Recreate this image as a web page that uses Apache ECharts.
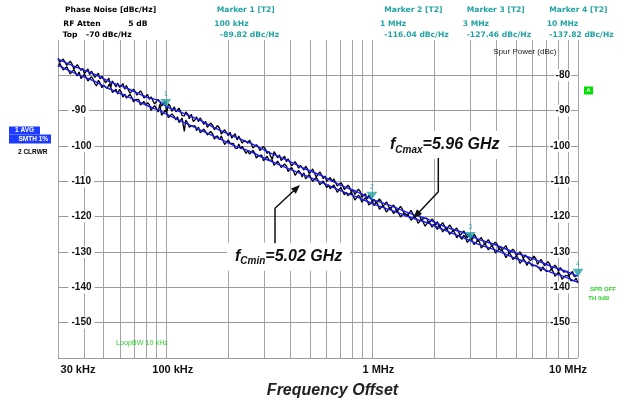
<!DOCTYPE html>
<html><head><meta charset="utf-8">
<script src="https://cdn.jsdelivr.net/npm/echarts@6.0.0/dist/echarts.min.js"></script>
<style>html,body{margin:0;padding:0;background:#fff}#c{width:636px;height:404px}</style>
</head><body><div id="c"></div>
<script>
// ---- data ----
// trace 2 (clear/write) sweep points, kHz
const freqKHz = [30,31.2,32.5,33.8,35.1,36.5,38,39.5,41.1,42.7,44.4,46.2,48,50,52,54,56.2,58.4,60.8,63.2,65.7,68.4,71.1,73.9,76.9,80,83.2,86.5,90,93.6,97.3,101,105,110,114,118,123,128,133,139,144,150,156,162,169,175,182,190,197,205,213,222,231,240,250,260,270,281,292,304,316,329,342,356,370,385,400,416,433,450,468,487,506,526,548,570,592,616,641,666,693,721,750,780,811,843,877,912,949,987,1026,1067,1110,1154,1200,1248,1298,1350,1404,1460,1519,1580,1643,1709,1777,1848,1922,1999,2079,2162,2249,2339,2432,2530,2631,2736,2846,2959,3078,3201,3329,3462,3600,3744,3894,4050,4212,4380,4555,4738,4927,5124,5329,5542,5764,5995,6234,6484,6743,7013,7293,7585,7888,8204,8532,8873,9228,9597,10000];
const freqMidKHz = [30.6,31.8,33.1,34.4,35.8,37.2,38.8,40.3,41.9,43.6,45.3,47.1,49,51,53,55.1,57.3,59.6,62,64.4,67,69.7,72.5,75.4,78.4,81.6,84.8,88.2,91.8,95.4,99.2,103,107,112,116,120,125,130,136,141,147,153,159,165,172,178,186,193,201,209,217,226,235,245,255,265,275,286,298,310,322,335,349,363,377,392,408,424,441,459,477,496,516,537,559,581,604,628,653,679,707,735,765,795,827,860,894,930,968,1006,1046,1088,1132,1177,1224,1273,1324,1377,1432,1489,1549,1611,1676,1743,1812,1885,1960,2039,2120,2205,2294,2385,2481,2580,2683,2791,2902,3018,3139,3265,3395,3531,3672,3819,3972,4131,4296,4467,4646,4832,5025,5226,5435,5653,5879,6114,6358,6613,6877,7152,7438,7736,8045,8367,8702,9050,9412,9797];
const clrwrUpper = [-75.2,-76.2,-75.7,-76.9,-76.8,-78.3,-77.8,-78.0,-79.1,-79.8,
-79.3,-80.1,-81.0,-80.3,-81.5,-83.4,-82.0,-82.2,-83.1,-83.9,
-83.3,-84.6,-84.6,-85.9,-85.2,-86.0,-86.8,-86.1,-87.9,-87.5,
-88.3,-90.7,-88.7,-88.9,-90.3,-90.2,-91.5,-91.0,-91.0,-92.5,
-93.1,-93.0,-93.0,-94.9,-94.2,-95.0,-94.9,-96.3,-96.2,-96.1,
-97.4,-98.3,-97.7,-98.4,-99.2,-98.6,-100.5,-100.2,-101.2,-100.8,
-101.5,-103.8,-102.4,-102.5,-103.7,-104.5,-103.8,-105.2,-105.3,-105.5,
-106.8,-106.5,-107.2,-107.0,-108.8,-108.2,-108.5,-109.8,-110.1,-109.8,
-111.1,-111.1,-112.4,-111.7,-112.4,-113.5,-112.8,-114.0,-114.9,-114.5,
-115.1,-116.2,-115.7,-116.5,-116.2,-117.5,-117.4,-118.6,-117.8,-118.6,
-119.2,-118.7,-120.2,-119.9,-120.5,-120.4,-121.9,-121.3,-121.4,-122.6,
-122.6,-123.5,-123.1,-124.0,-123.5,-124.9,-124.9,-124.9,-126.4,-125.8,
-126.5,-126.2,-127.5,-127.3,-128.5,-127.8,-128.5,-129.5,-128.7,-129.9,
-129.8,-131.2,-130.7,-130.8,-131.9,-132.0,-131.8,-133.2,-132.9,-133.7,
-133.4,-134.8,-134.4,-134.4,-135.7,-135.5,-136.2,-137.0,-136.5];
const clrwrUpperMid = [-76.3,-75.4,-77.2,-76.0,-78.2,-77.0,-78.6,-79.5,-78.2,-78.8,
-80.6,-79.4,-80.2,-82.1,-80.8,-81.6,-83.3,-83.4,-82.4,-82.9,
-85.1,-83.9,-85.6,-84.4,-86.4,-85.4,-86.1,-88.1,-86.8,-88.7,
-87.4,-88.1,-90.2,-90.3,-89.3,-91.4,-90.4,-92.3,-93.1,-91.7,
-92.0,-93.9,-94.7,-93.5,-95.4,-94.2,-96.6,-95.4,-97.1,-97.8,
-96.5,-97.2,-99.2,-98.0,-98.3,-100.6,-99.6,-101.3,-100.1,-102.1,
-102.8,-101.6,-103.4,-104.1,-102.9,-103.6,-105.6,-104.4,-106.3,-105.1,
-105.7,-107.8,-106.5,-108.8,-107.3,-109.3,-110.0,-108.9,-109.3,-111.3,
-110.4,-112.3,-111.1,-113.0,-113.7,-112.2,-114.5,-113.5,-113.9,-115.9,
-116.2,-115.0,-117.1,-115.8,-117.9,-116.7,-118.6,-117.1,-119.0,-119.6,
-118.2,-120.2,-119.1,-121.2,-120.0,-122.0,-120.6,-122.4,-123.0,-121.7,
-123.7,-122.3,-124.2,-123.2,-125.3,-124.0,-126.0,-124.9,-125.0,-127.0,
-125.9,-127.8,-126.5,-128.4,-127.2,-129.2,-129.4,-128.2,-130.4,-129.2,
-131.1,-130.0,-131.9,-130.8,-132.5,-131.2,-133.5,-132.1,-133.9,-132.7,
-134.9,-133.7,-135.5,-134.2,-136.1,-136.7,-135.5,-137.5];
const clrwrLower = [-77.5,-77.0,-78.1,-78.1,-79.6,-79.2,-79.0,-80.6,-80.6,-81.6,
-81.1,-83.0,-82.2,-82.8,-83.7,-83.2,-84.5,-85.3,-84.7,-85.3,
-86.8,-86.2,-86.9,-86.8,-88.2,-88.4,-88.3,-89.7,-89.3,-88.2,
-90.7,-90.5,-91.9,-91.7,-91.7,-93.1,-95.9,-93.6,-94.3,-94.3,
-94.6,-96.1,-95.9,-97.2,-96.6,-97.5,-98.2,-97.7,-99.3,-99.2,
-99.3,-100.7,-100.8,-100.5,-101.3,-102.6,-102.0,-102.8,-102.6,-104.0,
-103.9,-104.0,-105.6,-105.1,-106.0,-105.7,-106.9,-107.0,-108.0,-107.6,
-107.6,-109.0,-109.1,-110.2,-109.7,-110.5,-110.2,-111.0,-112.2,-112.0,
-112.7,-112.2,-113.1,-114.3,-114.1,-114.6,-114.5,-116.0,-115.5,-116.2,
-116.9,-116.4,-117.5,-117.3,-118.6,-118.1,-118.6,-118.5,-119.8,-119.9,
-119.6,-120.9,-120.6,-121.4,-120.9,-122.3,-122.1,-122.2,-123.6,-123.2,
-124.1,-123.6,-124.9,-124.7,-125.2,-126.4,-125.8,-126.8,-126.6,-127.7,
-127.2,-128.3,-128.4,-129.4,-128.9,-130.0,-129.6,-130.4,-131.4,-131.0,
-131.8,-131.8,-133.1,-132.6,-132.7,-133.9,-133.8,-134.6,-134.2,-135.5,
-135.4,-135.6,-136.7,-136.4,-137.2,-136.8,-138.1,-138.1,-138.8];
const clrwrLowerMid = [-76.6,-78.5,-77.6,-79.6,-78.4,-80.2,-80.9,-79.7,-81.6,-80.4,
-82.4,-81.4,-83.5,-82.4,-82.6,-84.9,-83.9,-84.0,-86.2,-86.4,
-85.4,-87.5,-86.4,-88.4,-87.4,-87.7,-89.9,-88.6,-90.4,-91.3,
-89.9,-92.0,-90.9,-92.6,-93.4,-92.1,-92.7,-94.7,-93.8,-95.7,
-96.3,-95.2,-96.9,-95.9,-98.0,-97.1,-97.2,-99.6,-98.3,-98.9,
-100.6,-99.4,-100.1,-102.1,-102.3,-101.2,-103.4,-102.3,-104.2,-102.9,
-103.5,-105.5,-104.3,-106.1,-105.1,-107.2,-106.1,-108.3,-106.9,-108.8,
-109.3,-108.1,-110.0,-108.9,-111.0,-109.9,-111.8,-112.1,-111.0,-113.1,
-111.7,-113.8,-114.1,-113.1,-115.3,-113.9,-115.9,-114.6,-116.7,-115.8,
-115.8,-117.9,-116.8,-118.7,-117.4,-119.1,-118.0,-120.1,-119.0,-119.2,
-121.0,-119.9,-121.9,-120.6,-122.7,-121.3,-123.0,-121.8,-122.4,-124.3,
-123.1,-125.0,-123.9,-126.0,-124.8,-125.2,-127.3,-126.1,-127.9,-126.6,
-128.9,-127.5,-129.4,-128.2,-130.3,-129.2,-129.7,-131.6,-130.2,-132.1,
-131.1,-133.2,-132.0,-133.8,-132.5,-134.4,-133.3,-135.4,-134.2,-135.8,
-134.8,-136.9,-135.7,-137.7,-136.6,-136.8,-138.6,-137.4];
// trace 1 (average, smoothed), kHz
const avgFreqKHz = [30,36.5,44.4,54,65.7,80,86.5,93.6,101,118,144,175,213,260,316,385,468,570,693,843,1026,1248,1519,1848,2249,2736,3329,4050,4927,5995,7293,8873,10000];
const avgUpper = [-75.4,-77.6,-79.5,-81.9,-83.8,-86.1,-86.6,-87.4,-88.9,-90.4,-92.5,-95.0,-97.2,-99.3,-101.8,-103.9,-106.3,-108.4,-110.9,-112.9,-115.3,-117.0,-119.0,-120.6,-122.8,-124.4,-126.5,-128.1,-130.2,-131.8,-133.9,-135.6,-136.8];
const avgLower = [-77.2,-79.5,-81.5,-84.0,-86.1,-88.4,-89.2,-90.0,-91.0,-92.9,-95.2,-97.5,-99.8,-101.7,-104.1,-106.2,-108.2,-110.3,-112.5,-114.4,-116.5,-118.2,-120.1,-121.7,-123.8,-125.8,-127.9,-129.6,-131.7,-133.5,-135.6,-137.3,-138.6];
const markerHz = [100000, 1000000, 3000000, 10000000];
const markerDb = [-89.82, -116.04, -127.46, -137.82];
const xTickHz = [30000, 100000, 1000000, 10000000];
const xTickText = ['30 kHz', '100 kHz', '1 MHz', '10 MHz'];
const minorGridHz = [40e3,50e3,60e3,70e3,80e3,90e3,200e3,300e3,400e3,500e3,600e3,700e3,800e3,900e3,2e6,3e6,4e6,5e6,6e6,7e6,8e6,9e6];
const yLeftTicks = [-90,-100,-110,-120,-130,-140,-150];
const yRightTicks = [-80,-90,-100,-110,-120,-130,-140,-150];

// ---- chart ----
const TEAL = '#23a3a3';
const GRID = '#a4a4ac';
const SANS = '"Liberation Sans", Arial, sans-serif';
const VER = '"DejaVu Sans", Verdana, sans-serif';
const pts = (fk, v) => fk.map((f, i) => [f * 1000, v[i]]);
function sweep(fk, v, fkMid, vMid) {
  const out = [];
  fk.forEach((f, i) => {
    out.push([f * 1000, v[i]]);
    if (i < fkMid.length) out.push([fkMid[i] * 1000, vMid[i]]);
  });
  return out;
}
const fLabel = f => f >= 1e6 ? (f / 1e6) + ' MHz' : (f / 1e3) + ' kHz';

const chart = echarts.init(document.getElementById('c'), null, {renderer: 'canvas'});

const graphics = [];
function txt(x, y, text, o) {
  graphics.push({type: 'text', x: x, y: y, z: 20, silent: true,
    style: Object.assign({text: text, fill: '#000', fontFamily: VER, fontWeight: 'bold', fontSize: 7.6, align: 'left', verticalAlign: 'middle'}, o || {})});
}
txt(65, 10.5, 'Phase Noise [dBc/Hz]');
txt(63.3, 23.8, 'RF Atten');
txt(128.3, 23.8, '5 dB');
txt(62.7, 35.5, 'Top');
txt(86, 35.5, '-70 dBc/Hz');
const mcolX1 = [216.7, 384.3, 466.7, 549.3];
const mcolX2 = [214.3, 380, 462.7, 546.7];
const mcolX3 = [220, 384.3, 466.7, 549.3];
markerHz.forEach((f, i) => {
  txt(mcolX1[i], 10.5, 'Marker ' + (i + 1) + ' [T2]', {fill: TEAL});
  txt(mcolX2[i], 23.8, fLabel(f), {fill: TEAL});
  txt(mcolX3[i], 35.5, markerDb[i].toFixed(2) + ' dBc/Hz', {fill: TEAL});
});
txt(493.3, 51.7, 'Spur Power (dBc)', {fontFamily: SANS, fontWeight: 'normal', fontSize: 8, fill: '#222'});
// left status boxes
graphics.push({type: 'rect', shape: {x: 9, y: 126.5, width: 31, height: 8}, style: {fill: '#1e3cff'}, z: 20});
graphics.push({type: 'rect', shape: {x: 9, y: 134.5, width: 42, height: 9}, style: {fill: '#1e3cff'}, z: 20});
txt(15, 130.5, '1 AVG', {fontFamily: SANS, fontSize: 6.5, fill: '#fff'});
txt(18.5, 139.3, 'SMTH 1%', {fontFamily: SANS, fontSize: 6.5, fill: '#fff'});
txt(18, 152.5, '2 CLRWR', {fontFamily: SANS, fontSize: 6.5, fill: '#000'});
// green A box
graphics.push({type: 'rect', shape: {x: 584, y: 86.5, width: 9, height: 8}, style: {fill: '#00dd00'}, z: 20});
txt(588.5, 90.7, 'A', {fontFamily: SANS, fontSize: 6, fill: '#fff', align: 'center'});
txt(590, 289.3, 'SPR OFF', {fontFamily: SANS, fontSize: 6, fill: '#2ed12e'});
txt(588.3, 298, 'TH 0dB', {fontFamily: SANS, fontSize: 6, fill: '#2ed12e'});
txt(116, 343.3, 'LoopBW 10 kHz', {fontFamily: SANS, fontWeight: 'normal', fontSize: 7.2, fill: '#2ed12e'});
// annotations
const annRich = {
  f: {fontFamily: SANS, fontWeight: 'bold', fontStyle: 'italic', fontSize: 16, lineHeight: 20, fill: '#111'},
  s: {fontFamily: SANS, fontWeight: 'bold', fontStyle: 'italic', fontSize: 10, lineHeight: 12, verticalAlign: 'bottom', fill: '#111'},
  m: {fontFamily: SANS, fontWeight: 'bold', fontStyle: 'italic', fontSize: 16, lineHeight: 20, fill: '#111'}
};
graphics.push({type: 'text', x: 380, y: 145, z: 15, silent: true,
  style: {text: '{f|f}{s|Cmax}{m|=5.96 GHz}', rich: annRich, align: 'left', verticalAlign: 'middle', backgroundColor: '#fff', padding: [4, 9, 4, 10]}});
graphics.push({type: 'text', x: 227, y: 256.7, z: 15, silent: true,
  style: {text: '{f|f}{s|Cmin}{m|=5.02 GHz}', rich: annRich, align: 'left', verticalAlign: 'middle', backgroundColor: '#fff', padding: [4, 8, 4, 8]}});
graphics.push({type: 'polyline', z: 16, silent: true, shape: {points: [[438.3, 158], [438.3, 191.7], [416, 215.5]]}, style: {stroke: '#111', lineWidth: 1.5, fill: null}});
graphics.push({type: 'polygon', z: 16, silent: true, shape: {points: [[413.3, 218.3], [422.1, 214.1], [416.9, 209.3]]}, style: {fill: '#111'}});
graphics.push({type: 'polyline', z: 16, silent: true, shape: {points: [[275, 243.3], [275, 208.3], [297.5, 187.3]]}, style: {stroke: '#111', lineWidth: 1.5, fill: null}});
graphics.push({type: 'polygon', z: 16, silent: true, shape: {points: [[300, 185], [295.8, 193.7], [291.0, 188.5]]}, style: {fill: '#111'}});

const xRich = {
  t0: {fontFamily: SANS, fontWeight: 'bold', fontSize: 11, color: '#111', padding: [0, 0, 0, 40]},
  t1: {fontFamily: SANS, fontWeight: 'bold', fontSize: 11, color: '#111', padding: [0, 0, 0, 14]},
  t2: {fontFamily: SANS, fontWeight: 'bold', fontSize: 11, color: '#111', padding: [0, 0, 0, 13]},
  t3: {fontFamily: SANS, fontWeight: 'bold', fontSize: 11, color: '#111', padding: [0, 20, 0, 0]}
};

const option = {
  animation: false,
  backgroundColor: '#fff',
  grid: {left: 58, right: 58, top: 40, bottom: 46, containLabel: false},
  graphic: graphics,
  xAxis: {
    type: 'log', logBase: 10, min: 30000, max: 10000000,
    axisLine: {show: false}, axisTick: {show: false},
    splitLine: {show: true, lineStyle: {color: GRID, width: 1}},
    axisLabel: {
      margin: 6, showMinLabel: true, showMaxLabel: true,
      fontFamily: SANS, fontWeight: 'bold', fontSize: 11, color: '#111',
      formatter: function (v) {
        const i = xTickHz.findIndex(f => Math.abs(Math.log10(f) - Math.log10(v)) < 0.01);
        return i < 0 ? '' : '{t' + i + '|' + xTickText[i] + '}';
      },
      rich: xRich
    },
    name: 'Frequency Offset', nameLocation: 'middle', nameGap: 25,
    nameTextStyle: {fontFamily: SANS, fontWeight: 'bold', fontStyle: 'italic', fontSize: 16, color: '#222', padding: [0, 0, 0, 29]}
  },
  yAxis: [{
    type: 'value', position: 'left', min: -160, max: -70, interval: 10, z: 2,
    axisLine: {show: false}, axisTick: {show: false},
    splitLine: {show: true, showMaxLine: false, lineStyle: {color: '#9a9aa0', width: 1}},
    axisLabel: {inside: true, margin: 10.5, customValues: yLeftTicks, fontFamily: SANS, fontWeight: 'bold', fontSize: 10, color: '#111',
      backgroundColor: '#fff', padding: [1, 3, 1, 3]}
  }, {
    type: 'value', position: 'right', min: -160, max: -70, interval: 10, z: 2,
    axisLine: {show: false}, axisTick: {show: false}, splitLine: {show: false},
    axisLabel: {inside: true, margin: 7, customValues: yRightTicks, fontFamily: SANS, fontWeight: 'bold', fontSize: 10, color: '#111',
      backgroundColor: '#fff', padding: [1, 1, 1, 1]}
  }],
  series: [{
    type: 'line', name: 'clrwr upper', data: sweep(freqKHz, clrwrUpper, freqMidKHz, clrwrUpperMid), showSymbol: false, z: 3,
    lineStyle: {color: '#000', width: 1.3}, silent: true,
    markLine: {z: 1, silent: true, symbol: 'none', animation: false, label: {show: false},
      lineStyle: {color: GRID, width: 1, type: 'solid'}, emphasis: {disabled: true},
      data: minorGridHz.map(f => ({xAxis: f}))}
  }, {
    type: 'line', name: 'clrwr lower', data: sweep(freqKHz, clrwrLower, freqMidKHz, clrwrLowerMid), showSymbol: false, z: 3,
    lineStyle: {color: '#000', width: 1.3}, silent: true
  }, {
    type: 'line', name: 'avg upper', data: pts(avgFreqKHz, avgUpper), showSymbol: false, z: 4, smooth: 0.2,
    lineStyle: {color: '#1a1aff', width: 1.4}, silent: true
  }, {
    type: 'line', name: 'avg lower', data: pts(avgFreqKHz, avgLower), showSymbol: false, z: 4, smooth: 0.2,
    lineStyle: {color: '#1a1aff', width: 1.4}, silent: true
  }, {
    type: 'scatter', name: 'markers', z: 5, silent: true,
    data: markerHz.map((f, i) => [f, markerDb[i]]),
    symbol: 'path://M0,0 L10,0 L5,7 Z', symbolKeepAspect: false, symbolSize: [11, 8], symbolOffset: [0, -7],
    itemStyle: {color: TEAL},
    label: {show: true, position: 'top', distance: 1, formatter: p => String(p.dataIndex + 1), fontFamily: SANS, fontSize: 7, color: TEAL}
  }]
};
chart.setOption(option);
</script></body></html>
